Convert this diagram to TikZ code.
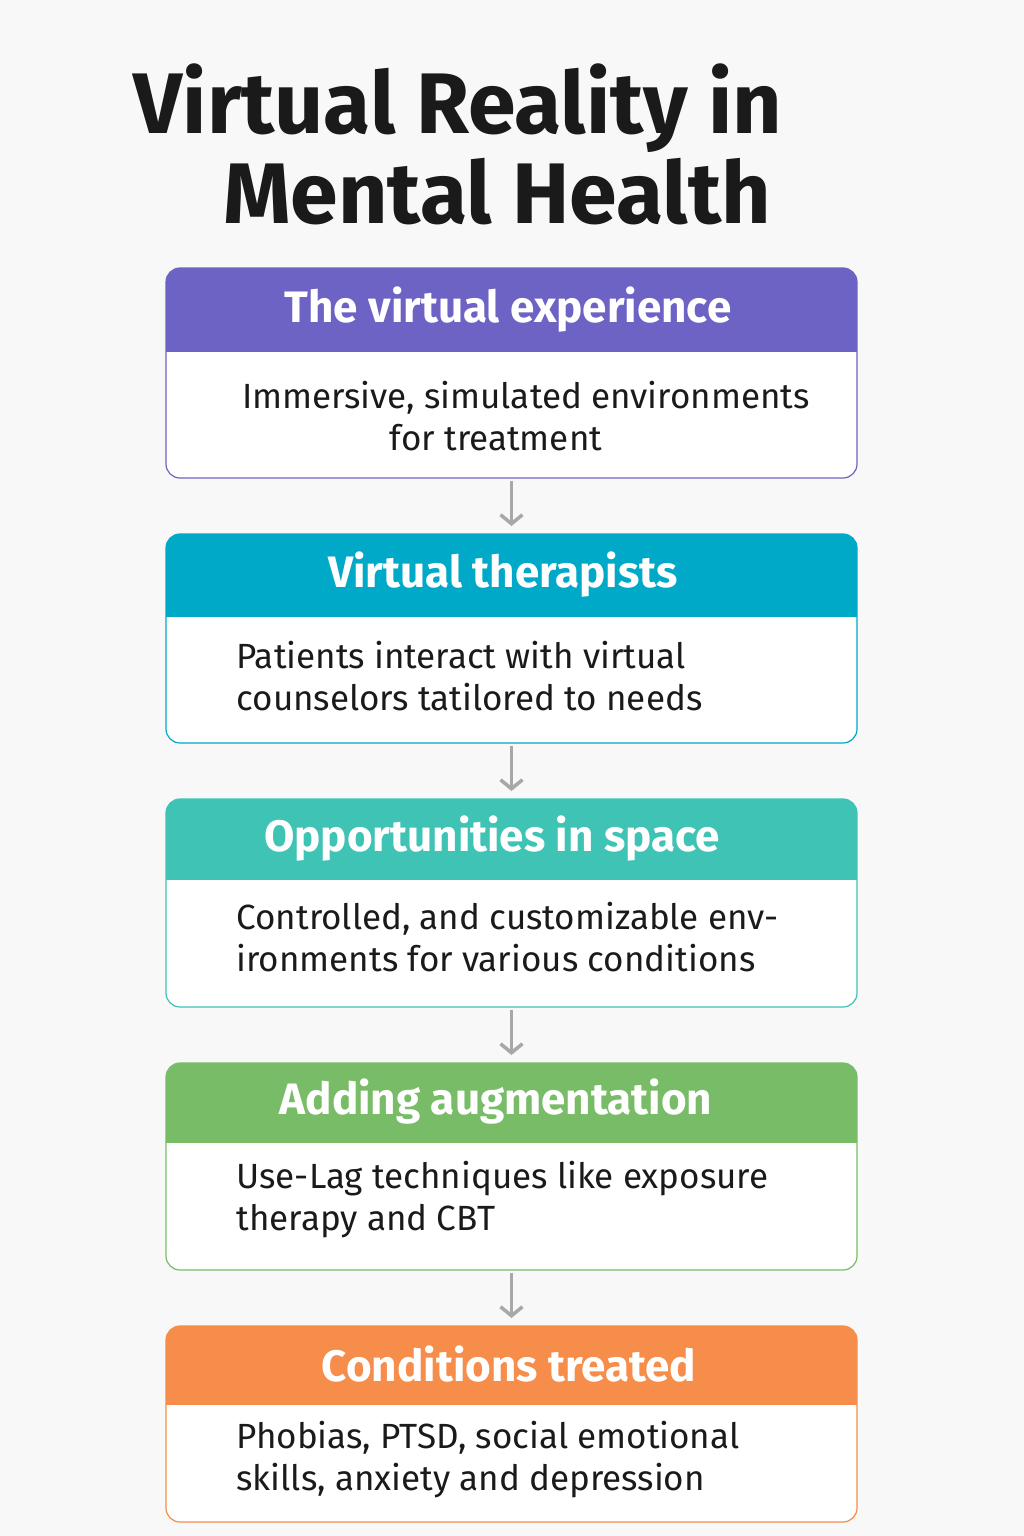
\documentclass[tikz,border=0pt]{standalone}
\usepackage{fontspec}
\setmainfont{Fira Sans}
\usetikzlibrary{arrows.meta}
\definecolor{bg}{HTML}{F8F8F8}
\definecolor{cA}{HTML}{6C63C4}
\definecolor{cB}{HTML}{00A9C8}
\definecolor{cC}{HTML}{3EC3B5}
\definecolor{cD}{HTML}{79BC67}
\definecolor{cE}{HTML}{F68D4A}
\definecolor{arr}{HTML}{A8A8A8}
\definecolor{txt}{HTML}{1A1A1A}
\tikzset{
 boxnode/.style={draw=none,minimum width=691pt,inner sep=0pt,anchor=north west},
 headtxt/.style={font=\fontsize{44}{50}\selectfont\bfseries,text=white},
 bodytxt/.style={font=\fontsize{35}{44}\selectfont,text=txt,align=left,anchor=west},
 conn/.style={draw=arr,line width=3.5pt,-{Straight Barb[length=9pt,width=22pt]}}
}
\newcommand{\vrbox}[7]{% name, top, bottom, headbottom, color, headtext/x, body
 \path (166,-#2) coordinate (#1nw) (857,-#3) coordinate (#1se) (511.5,-#2) coordinate (#1n) (511.5,-#3) coordinate (#1s);
 \fill[white,rounded corners=14pt] (#1nw) rectangle (#1se);
 \begin{scope}
 \clip[rounded corners=14pt] (#1nw) rectangle (#1se);
 \fill[#5] (166,-#2) rectangle (857,-#4);
 \end{scope}
 \draw[#5,line width=1.2pt,rounded corners=14pt] (#1nw) rectangle (#1se);
 #6
 #7
}
\begin{document}
\begin{tikzpicture}[x=1pt,y=1pt]
\fill[bg] (0,0) rectangle (1024,-1536);
\useasboundingbox (0,0) rectangle (1024,-1536);
\node[font=\fontsize{86}{86}\selectfont\bfseries,text=txt] (t1) at (458,-108) {Virtual Reality in};
\node[font=\fontsize{86}{86}\selectfont\bfseries,text=txt] (t2) at (497,-192) {Mental Health};

\vrbox{a}{268}{478}{352}{cA}{\node[headtxt] (ha) at (508,-310) {The virtual experience};}
 {\node[font=\fontsize{35}{44}\selectfont,text=txt,align=center] (ba) at (526,-416) {Immersive, simulated environments\\[-2pt]\hspace*{-60pt}for treatment};}
\vrbox{b}{534}{743}{617}{cB}{\node[headtxt] (hb) at (503,-575) {Virtual therapists};}
 {\node[bodytxt] (bb) at (233,-676) {Patients interact with virtual\\[-2pt]counselors tatilored to needs};}
\vrbox{c}{799}{1007}{880}{cC}{\node[headtxt] (hc) at (492,-839) {Opportunities in space};}
 {\node[bodytxt] (bc) at (233,-937) {Controlled, and customizable env-\\[-2pt]ironments for various conditions};}
\vrbox{d}{1063}{1270}{1143}{cD}{\node[headtxt] (hd) at (496,-1102) {Adding augmentation};}
 {\node[bodytxt] (bd) at (233,-1200) {Use-Lag techniques like exposure\\[-2pt]therapy and CBT};}
\vrbox{e}{1326}{1522}{1405}{cE}{\node[headtxt] (he) at (509,-1364) {Conditions treated};}
 {\node[bodytxt] (be) at (233,-1460) {Phobias, PTSD, social emotional\\[-2pt]skills, anxiety and depression};}

\draw[conn] ([yshift=-3pt]as) -- ([yshift=8pt]bn);
\draw[conn] ([yshift=-3pt]bs) -- ([yshift=8pt]cn);
\draw[conn] ([yshift=-3pt]cs) -- ([yshift=8pt]dn);
\draw[conn] ([yshift=-3pt]ds) -- ([yshift=8pt]en);
\end{tikzpicture}
\end{document}
